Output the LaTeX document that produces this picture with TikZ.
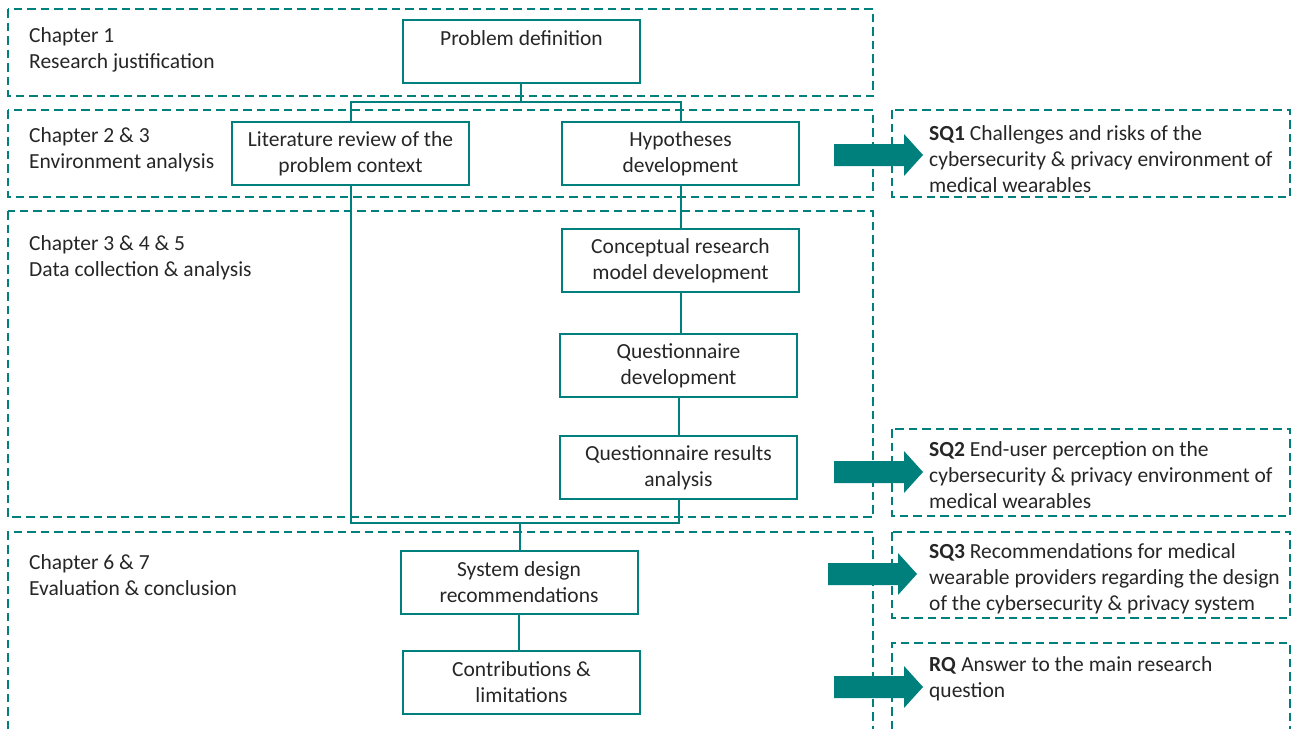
\documentclass[tikz,border=0pt]{standalone}
\usepackage{fontspec}
\setmainfont{Carlito}
\definecolor{tealline}{RGB}{0,128,124}
\definecolor{inktext}{RGB}{38,38,38}
\begin{document}
\begin{tikzpicture}[x=1pt,y=-1pt,
  every node/.style={text=inktext,font=\fontsize{21.5}{26}\selectfont},
  chapbox/.style={draw=tealline,line width=1.5pt,dash pattern=on 8.5pt off 5pt},
  stepbox/.style={draw=tealline,line width=2pt,minimum width=237pt,minimum height=63pt,inner sep=0pt,align=center},
  link/.style={draw=tealline,line width=2pt},
  label/.style={align=left,anchor=west,inner sep=0pt},
  blockarrow/.pic={\fill[tealline] (0,-11)--(70,-11)--(70,-21)--(89,0)--(70,21)--(70,11)--(0,11)--cycle;}
]
\useasboundingbox (0,0) rectangle (1293,729);

% chapter bands
\draw[chapbox] (8,9) rectangle (873,96);
\draw[chapbox] (8,110) rectangle (873,197);
\draw[chapbox] (8,211) rectangle (873,517);
\draw[chapbox] (8,729) -- (8,532) -- (873,532) -- (873,729);

% research question bands
\draw[chapbox] (892,110) rectangle (1290,197);
\draw[chapbox] (892,429) rectangle (1290,516);
\draw[chapbox] (892,532) rectangle (1290,618);
\draw[chapbox] (892,729) -- (892,643) -- (1290,643) -- (1290,729);

% chapter labels
\node[label] (c1) at (29,50) {Chapter 1\\Research justification};
\node[label] (c2) at (29,150) {Chapter 2 \& 3\\Environment analysis};
\node[label] (c3) at (29,258) {Chapter 3 \& 4 \& 5\\Data collection \& analysis};
\node[label] (c6) at (29,575) {Chapter 6 \& 7\\Evaluation \& conclusion};

% process steps
\node[stepbox] (pd) at (521.5,51) {Problem definition\\\mbox{}};
\node[stepbox] (lit) at (350.5,153.5) {Literature review of the\\problem context};
\node[stepbox] (hyp) at (680.5,153.5) {Hypotheses\\development};
\node[stepbox] (crm) at (680.5,260.5) {Conceptual research\\model development};
\node[stepbox] (qd) at (678.5,365.5) {Questionnaire\\development};
\node[stepbox] (qr) at (678.5,467.5) {Questionnaire results\\analysis};
\node[stepbox] (sd) at (519,582.5) {System design\\recommendations};
\node[stepbox] (cl) at (521.5,682.5) {Contributions \&\\limitations};

% connectors
\coordinate (split) at (521,102);
\coordinate (join) at (520,523);
\draw[link] (pd.south -| split) -- (split);
\draw[link] (lit.north) |- (split) -| (hyp.north);
\draw[link] (hyp.south) -- (hyp.south |- crm.north);
\draw[link] (crm.south) -- (qd.north -| crm.south);
\draw[link] (qd.south) -- (qr.north);
\draw[link] (lit.south) |- (join) -| (qr.south);
\draw[link] (join) -- (join |- sd.north);
\draw[link] (sd.south) -- (sd.south |- cl.north);

% outcome arrows
\pic at (834,155) {blockarrow};
\pic at (834,472) {blockarrow};
\pic at (828,574) {blockarrow};
\pic at (834,687) {blockarrow};

% research questions
\node[label] (sq1) at (929,159) {\textbf{SQ1} Challenges and risks of the\\cybersecurity \& privacy environment of\\medical wearables};
\node[label] (sq2) at (929,475) {\textbf{SQ2} End-user perception on the\\cybersecurity \& privacy environment of\\medical wearables};
\node[label] (sq3) at (929,579) {\textbf{SQ3} Recommendations for medical\\wearable providers regarding the design\\of the cybersecurity \& privacy system};
\node[label] (rq) at (929,679) {\textbf{RQ} Answer to the main research\\question};
\end{tikzpicture}
\end{document}
